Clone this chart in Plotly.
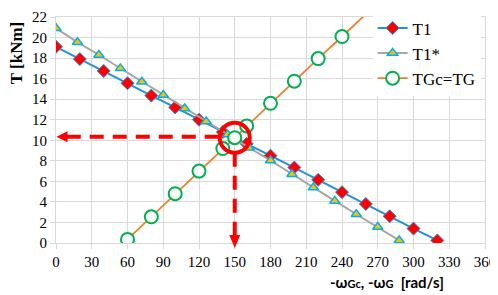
import plotly.graph_objects as go

# ---- data ----
t1_x = [0, 20, 40, 60, 80, 100, 120, 140, 160, 180, 200, 220, 240, 260, 280, 300, 320]
t1_y = [19.1, 17.9, 16.75, 15.55, 14.35, 13.2, 12.0, 10.8, 9.65, 8.5, 7.35, 6.15, 4.95, 3.8, 2.6, 1.4, 0.25]

t1s_x = [0, 18, 36, 54, 72, 90, 108, 126, 144, 162, 180, 198, 216, 234, 252, 270, 288]
t1s_y = [20.9, 19.55, 18.3, 17.0, 15.7, 14.4, 13.1, 11.83, 10.55, 9.28, 8.03, 6.7, 5.4, 4.1, 2.8, 1.55, 0.25]

tg_x = [60, 80, 100, 120, 140, 150, 160, 180, 200, 220, 240, 280]
tg_y = [0.35, 2.55, 4.8, 7.0, 9.2, 10.25, 11.4, 13.6, 15.75, 17.95, 20.1, 24.45]

x_ticks = [0, 30, 60, 90, 120, 150, 180, 210, 240, 270, 300, 330, 360]
y_ticks = [0, 2, 4, 6, 8, 10, 12, 14, 16, 18, 20, 22]

# operating point (annotation)
op_x = 150
op_y = 10.25
arrow_y = 10.35

X_RANGE = [0, 360]
Y_RANGE = [0, 22]

# figure geometry (page body has an 8px margin)
W, H = 490, 287
ML, MR, MT, MB = 47.5, 13, 8.5, 52.3
PX_X = (W - ML - MR) / (X_RANGE[1] - X_RANGE[0])
PX_Y = (H - MT - MB) / (Y_RANGE[1] - Y_RANGE[0])

fig = go.Figure()
fig.add_trace(go.Scatter(
    x=t1_x, y=t1_y, name="T1", mode="lines+markers",
    line=dict(color="#2391d9", width=2),
    marker=dict(symbol="diamond", size=10, color="#ff0000",
                line=dict(color="#2391d9", width=1)),
))
fig.add_trace(go.Scatter(
    x=t1s_x, y=t1s_y, name="T1*", mode="lines+markers",
    line=dict(color="#a5a5a5", width=2),
    marker=dict(symbol="triangle-up", size=9, color="#ffc000",
                line=dict(color="#00b0f0", width=1.5)),
))
fig.add_trace(go.Scatter(
    x=tg_x, y=tg_y, name="TGc=TG", mode="lines+markers",
    line=dict(color="#f07f2c", width=1.8),
    marker=dict(symbol="circle", size=13, color="white",
                line=dict(color="#00b050", width=2)),
))

red = "#ff0000"
R = 15
shapes = []
shapes.append(dict(type="circle", xref="x", yref="y", xsizemode="pixel", ysizemode="pixel",
                   xanchor=op_x, yanchor=op_y, x0=-R, x1=R, y0=-R, y1=R,
                   line=dict(color=red, width=4), layer="above"))
shapes.append(dict(type="line", xref="x", yref="y", x0=9, x1=op_x - R / PX_X, y0=arrow_y, y1=arrow_y,
                   line=dict(color=red, width=4, dash="14px,9px"), layer="above"))
shapes.append(dict(type="path", xref="x", yref="y", xsizemode="pixel", ysizemode="pixel",
                   xanchor=0.4, yanchor=arrow_y, path="M 0,0 L 11,5.5 L 11,-5.5 Z",
                   fillcolor=red, line=dict(color=red, width=0), layer="above"))
shapes.append(dict(type="line", xref="x", yref="y", x0=op_x, x1=op_x, y0=op_y - R / PX_Y, y1=0.75,
                   line=dict(color=red, width=4, dash="14px,9px"), layer="above"))
shapes.append(dict(type="path", xref="paper", yref="paper", xsizemode="pixel", ysizemode="pixel",
                   xanchor=(op_x - X_RANGE[0]) / (X_RANGE[1] - X_RANGE[0]),
                   yanchor=(-0.49 - Y_RANGE[0]) / (Y_RANGE[1] - Y_RANGE[0]),
                   path="M 0,0 L -5.5,13 L 5.5,13 Z",
                   fillcolor=red, line=dict(color=red, width=0), layer="above"))

grid = "#d9d9d9"
serif = "Liberation Serif"
fig.update_layout(
    width=W, height=H,
    margin=dict(l=ML, r=MR, t=MT, b=MB, autoexpand=False),
    paper_bgcolor="white", plot_bgcolor="white",
    font=dict(family=serif, size=15, color="#000000"),
    showlegend=True,
    legend=dict(x=0.738, y=1.029, xanchor="left", yanchor="top",
                bgcolor="white", font=dict(family=serif, size=17, color="#000000"),
                tracegroupgap=0, itemwidth=30),
    shapes=shapes,
    annotations=[
        dict(text="<b>-ω<span style='font-size:11px'>Gc</span>, -ω<span style='font-size:11px'>G</span>  [rad/s]</b>",
             xref="paper", yref="paper", x=0.772, y=-0.172, xanchor="center", yanchor="middle",
             showarrow=False, font=dict(family="Lato", size=15, color="#000000")),
        dict(text="<b>T [kNm]</b>", xref="paper", yref="paper", x=-0.092, y=0.842,
             xanchor="center", yanchor="middle", textangle=-90, showarrow=False,
             font=dict(family=serif, size=17, color="#000000")),
    ],
)
fig.update_xaxes(range=X_RANGE, tickvals=x_ticks, showgrid=True, gridcolor=grid, gridwidth=1,
                 zeroline=False, showline=True, linecolor=grid, mirror=True, automargin=False,
                 ticks="outside", ticklen=5, tickcolor=grid, ticklabeloverflow="allow",
                 tickfont=dict(family=serif, size=15, color="#000000"))
fig.update_yaxes(range=Y_RANGE, tickvals=y_ticks, showgrid=True, gridcolor=grid, gridwidth=1,
                 zeroline=False, showline=True, linecolor=grid, mirror=True, automargin=False,
                 ticks="outside", ticklen=5, tickcolor=grid, ticklabeloverflow="allow",
                 tickfont=dict(family=serif, size=15, color="#000000"))

fig.write_html("out.html")
